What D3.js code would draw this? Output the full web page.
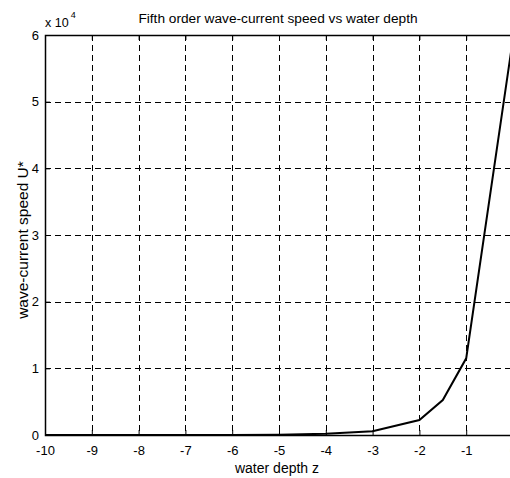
<!DOCTYPE html>
<html>
<head>
<meta charset="utf-8">
<script src="https://cdn.jsdelivr.net/npm/d3@7"></script>
<style>
  body { margin: 0; background: #fff; overflow: hidden; }
  text { font-family: "Liberation Sans", Arial, sans-serif; fill: #000; }
</style>
</head>
<body>
<svg id="chart" width="510" height="478"></svg>
<script>
// depth samples and the wave-current speed
var depth = [-10, -9, -8, -7, -6, -5, -4, -3, -2, -1.5, -1, 0];
var speed = [0, 0, 0, 0, 0, 30, 200, 550, 2250, 5250, 11500, 59500];
var xTicks = [-10, -9, -8, -7, -6, -5, -4, -3, -2, -1, 0];
var yTicks = [0, 1, 2, 3, 4, 5, 6];   // in units of 10^4

(function () {
  var svg = d3.select("#chart");

  // plot box (right edge falls just outside the window, like the original)
  var box = { left: 45, top: 35, right: 513, bottom: 435 };

  var x = d3.scaleLinear().domain([-10, 0]).range([box.left, box.right]);
  var y = d3.scaleLinear().domain([0, 6e4]).range([box.bottom, box.top]);

  // dashed grid
  var grid = svg.append("g").attr("class", "grid")
    .attr("stroke", "#000").attr("stroke-width", 1)
    .attr("stroke-dasharray", "6,4").attr("shape-rendering", "crispEdges");

  grid.selectAll("line.gx")
    .data(xTicks.slice(1, -1))
    .enter().append("line")
    .attr("x1", function(d) { return Math.round(x(d)) + 0.5; })
    .attr("x2", function(d) { return Math.round(x(d)) + 0.5; })
    .attr("y1", box.top).attr("y2", box.bottom);

  grid.selectAll("line.gy")
    .data(yTicks.slice(1, -1))
    .enter().append("line")
    .attr("y1", function(d) { return Math.round(y(d * 1e4)) + 0.5; })
    .attr("y2", function(d) { return Math.round(y(d * 1e4)) + 0.5; })
    .attr("x1", box.left).attr("x2", box.right);

  // axes: ticks pointing inward, hyphen minus like matlab
  var xAxis = d3.axisBottom(x).tickValues(xTicks).tickSize(-5).tickPadding(11)
    .tickFormat(function(d) { return String(d); });
  var yAxis = d3.axisLeft(y).tickValues(yTicks.map(function(d) { return d * 1e4; }))
    .tickSize(-5).tickPadding(6).tickFormat(function(d) { return String(d / 1e4); });
  var xTop = d3.axisTop(x).tickValues(xTicks).tickSize(-5).tickFormat("");

  function styleAxis(g) {
    g.select(".domain").remove();
    g.selectAll(".tick line").attr("stroke", "#000");
    g.selectAll(".tick text").attr("font-size", 13).attr("fill", "#000");
    g.attr("font-family", null);
  }

  svg.append("g").attr("transform", "translate(0," + box.bottom + ")").call(xAxis).call(styleAxis);
  svg.append("g").attr("transform", "translate(" + box.left + ",0)").call(yAxis).call(styleAxis);
  svg.append("g").attr("transform", "translate(0," + box.top + ")").call(xTop).call(styleAxis);

  // box
  svg.append("rect")
    .attr("x", box.left + 0.5).attr("y", box.top + 0.5)
    .attr("width", box.right - box.left).attr("height", box.bottom - box.top)
    .attr("fill", "none").attr("stroke", "#000").attr("stroke-width", 1.5);

  // the curve
  var line = d3.line()
    .x(function(d, i) { return x(depth[i]); })
    .y(function(d) { return y(d); });

  svg.append("path")
    .datum(speed)
    .attr("d", line)
    .attr("fill", "none")
    .attr("stroke", "#000")
    .attr("stroke-width", 2);

  // labels
  svg.append("text")
    .attr("x", 278).attr("y", 23)
    .attr("text-anchor", "middle").attr("font-size", 13.7)
    .text("Fifth order wave-current speed vs water depth");

  svg.append("text")
    .attr("x", 277).attr("y", 473)
    .attr("text-anchor", "middle").attr("font-size", 14)
    .text("water depth z");

  svg.append("text")
    .attr("transform", "translate(28,240) rotate(-90)")
    .attr("text-anchor", "middle").attr("font-size", 15.5)
    .text("wave-current speed U*");

  var expo = svg.append("text").attr("x", 45).attr("y", 27).attr("font-size", 12.5);
  expo.append("tspan").text("x 10");
  expo.append("tspan").attr("dx", 2).attr("dy", -9).attr("font-size", 9).text("4");
})();
</script>
</body>
</html>
